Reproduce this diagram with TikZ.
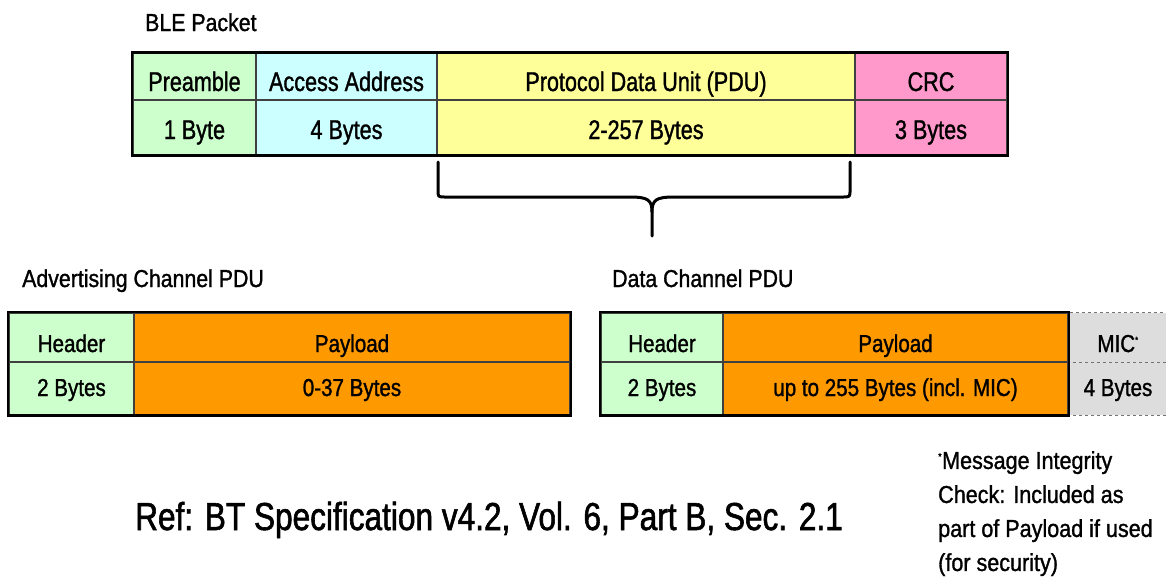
\documentclass[tikz,border=0pt]{standalone}
\usepackage{fontspec}
\setmainfont{Liberation Sans}[FakeStretch=0.84, FakeBold=1.2]
\newfontfamily\blefont{Liberation Sans}[FakeStretch=0.8, FakeBold=1.2]
\newfontfamily\titlefont{Liberation Sans}[FakeStretch=0.87, FakeBold=1.2]
\newfontfamily\notefont{Liberation Sans}[FakeStretch=0.88, FakeBold=1.2]
\newfontfamily\reffont{Liberation Sans}[FakeStretch=0.81, FakeBold=1.5]
\definecolor{pregreen}{HTML}{CCFFCC}
\definecolor{aacyan}{HTML}{CCFFFF}
\definecolor{pduyellow}{HTML}{FFFF99}
\definecolor{crcpink}{HTML}{FF99CC}
\definecolor{payorange}{HTML}{FF9900}
\definecolor{micgray}{HTML}{DDDDDD}
\begin{document}
\begin{tikzpicture}[x=1pt,y=-1pt,
  txt/.style={font=\fontsize{24.5}{28}\selectfont, inner sep=0pt},
  title/.style={inner sep=0pt, anchor=base west, font=\titlefont\fontsize{24.5}{28}\selectfont},
  cell/.style={txt, draw=black!75, line width=1.2pt},
  blecell/.style={cell, font=\blefont\fontsize{27}{30}\selectfont},
  rowA/.style={blecell, minimum height=47pt, text height=29pt, text depth=0pt},
  rowB/.style={blecell, minimum height=55pt, text height=25pt, text depth=2pt},
  rowC/.style={cell, minimum height=49pt, text height=29pt, text depth=0pt},
  rowD/.style={cell, minimum height=53pt, text height=18pt, text depth=3pt},
  miccell/.style={draw=black!55, dashed, line width=1pt},
  frame/.style={line width=2pt},
  edge/.style={line width=3pt},
  brace/.style={line width=3pt, line cap=round, line join=round}]
\useasboundingbox (0,0) rectangle (1166,584);

% BLE packet
\node[title] (bletitle) at (145,31) {BLE Packet};
\node[rowA, fill=pregreen,  minimum width=123pt] (pre1) at (194.5,76.5) {Preamble};
\node[rowA, fill=aacyan,    minimum width=181pt] (aa1)  at (346.5,76.5) {Access Address};
\node[rowA, fill=pduyellow, minimum width=418pt] (pdu1) at (646,76.5)   {Protocol Data Unit (PDU)};
\node[rowA, fill=crcpink,   minimum width=152pt] (crc1) at (931,76.5)   {CRC};
\node[rowB, fill=pregreen,  minimum width=123pt] (pre2) at (194.5,127.5) {1 Byte};
\node[rowB, fill=aacyan,    minimum width=181pt] (aa2)  at (346.5,127.5) {4 Bytes};
\node[rowB, fill=pduyellow, minimum width=418pt] (pdu2) at (646,127.5)   {2-257 Bytes};
\node[rowB, fill=crcpink,   minimum width=152pt] (crc2) at (931,127.5)   {3 Bytes};
\draw[frame] (pre1.north west) rectangle (crc2.south east);
\draw[edge] (pre1.north west) -- (crc1.north east);
\draw[edge] (pre2.south west) -- (crc2.south east);

% brace below the PDU field
\coordinate (bl) at (438,162);
\coordinate (br) at (850,162);
\coordinate (bt) at (652,236);
\draw[brace] (bl) -- (438,190) .. controls (438,197) .. (445,197) -- (630,197)
  .. controls (648,197) and (652,200) .. (652,212) -- (bt);
\draw[brace] (br) -- (850,190) .. controls (850,197) .. (843,197) -- (674,197)
  .. controls (656,197) and (652,200) .. (652,212);

% Advertising channel PDU
\node[title] (advtitle) at (22,287) {Advertising Channel PDU};
\node[rowC, fill=pregreen,  minimum width=125pt] (ahd1) at (71.5,337.5) {Header};
\node[rowC, fill=payorange, minimum width=436pt] (apl1) at (352,337.5)  {Payload};
\node[rowD, fill=pregreen,  minimum width=125pt] (ahd2) at (71.5,388.5) {2 Bytes};
\node[rowD, fill=payorange, minimum width=436pt] (apl2) at (352,388.5)  {0-37 Bytes};
\draw[frame] (ahd1.north west) rectangle (apl2.south east);
\draw[edge] (ahd2.south west) -- (apl2.south east);

% Data channel PDU
\node[title] (datatitle) at (612,287) {Data Channel PDU};
\node[rowC, fill=micgray, draw=none, minimum width=100pt] (mic1) at (1118,337.5) {MIC\textsuperscript{\fontsize{9}{9}\selectfont *}};
\node[rowD, fill=micgray, draw=none, minimum width=100pt] (mic2) at (1118,388.5) {4 Bytes};
\draw[miccell] (mic1.north east) -- (mic1.north west);
\draw[miccell] (mic1.south west) -- (mic1.south east);
\draw[miccell] (mic2.south west) -- (mic2.south east);
\node[rowC, fill=pregreen,  minimum width=122pt] (dhd1) at (662,337.5)   {Header};
\node[rowC, fill=payorange, minimum width=345pt] (dpl1) at (895.5,337.5) {Payload};
\node[rowD, fill=pregreen,  minimum width=122pt] (dhd2) at (662,388.5)   {2 Bytes};
\node[rowD, fill=payorange, minimum width=345pt] (dpl2) at (895.5,388.5) {up to 255 Bytes (incl. MIC)};
\draw[frame] (dhd1.north west) rectangle (dpl2.south east);
\draw[edge] (dhd2.south west) -- (dpl2.south east);

% reference and footnote
\node[inner sep=0pt, anchor=base west, font=\reffont\fontsize{39}{44}\selectfont] (ref) at (135,530)
  {Ref: BT Specification v4.2, Vol. 6, Part B, Sec. 2.1};
\node[inner sep=0pt, anchor=north west, align=left, font=\notefont\fontsize{24.5}{34}\selectfont] (note) at (938,451)
  {\textsuperscript{\fontsize{10}{10}\selectfont *}Message Integrity\\Check: Included as\\part of Payload if used\\(for security)};
\end{tikzpicture}
\end{document}
